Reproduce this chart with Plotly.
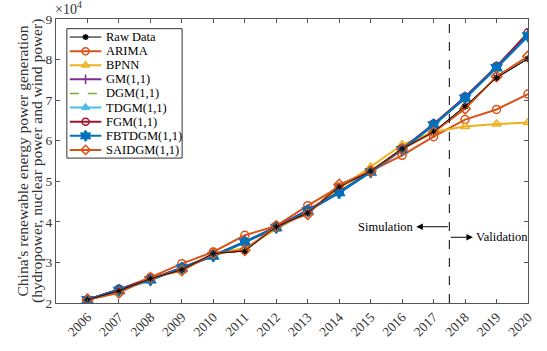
import plotly.graph_objects as go

years = list(range(2006, 2021))
raw = [2.08, 2.30, 2.60, 2.82, 3.22, 3.28, 3.88, 4.22, 4.86, 5.25, 5.80, 6.22, 6.85, 7.55, 8.02]
arima = [2.08, 2.33, 2.63, 2.97, 3.26, 3.67, 3.90, 4.40, 4.86, 5.25, 5.64, 6.10, 6.52, 6.77, 7.15]
bpnn = [2.08, 2.28, 2.62, 2.80, 3.22, 3.35, 3.82, 4.25, 4.82, 5.35, 5.90, 6.22, 6.35, 6.41, 6.45]
gm = [2.08, 2.33, 2.58, 2.86, 3.16, 3.50, 3.87, 4.28, 4.73, 5.23, 5.79, 6.40, 7.07, 7.81, 8.63]
dgm = [2.08, 2.33, 2.58, 2.86, 3.16, 3.50, 3.87, 4.28, 4.73, 5.23, 5.79, 6.40, 7.07, 7.82, 8.64]
tdgm = [2.08, 2.32, 2.58, 2.86, 3.16, 3.50, 3.87, 4.28, 4.73, 5.24, 5.79, 6.39, 7.06, 7.80, 8.60]
fgm = [2.08, 2.34, 2.59, 2.87, 3.17, 3.51, 3.88, 4.29, 4.74, 5.24, 5.80, 6.41, 7.08, 7.83, 8.66]
fbtdgm = [2.08, 2.31, 2.57, 2.86, 3.16, 3.50, 3.86, 4.27, 4.72, 5.23, 5.78, 6.39, 7.05, 7.80, 8.58]
saidgm = [2.08, 2.25, 2.62, 2.80, 3.22, 3.30, 3.90, 4.19, 4.92, 5.25, 5.79, 6.21, 6.79, 7.58, 8.08]
y_ticks = [2, 3, 4, 5, 6, 7, 8, 9]

# name, values, color, marker symbol, line width, dash, marker size
series = [
    ("Raw Data", raw, "black", "asterisk-open", 1, "solid", 6),
    ("ARIMA", arima, "#D95319", "circle-open", 2, "solid", 8),
    ("BPNN", bpnn, "#EDB120", "triangle-up-open", 2, "solid", 8),
    ("GM(1,1)", gm, "#7E2F8E", "line-ns-open", 2, "solid", 8),
    ("DGM(1,1)", dgm, "#77AC30", None, 1.5, "dash", 6),
    ("TDGM(1,1)", tdgm, "#4DBEEE", "triangle-up", 2, "solid", 8),
    ("FGM(1,1)", fgm, "#A2142F", "circle-open", 2, "solid", 8),
    ("FBTDGM(1,1)", fbtdgm, "#0072BD", "hexagram", 2.5, "solid", 9),
    ("SAIDGM(1,1)", saidgm, "#D95319", "diamond-open", 2, "solid", 8),
]

font_family = "Liberation Serif"
fig = go.Figure()
for name, vals, color, sym, w, dash, ms in series:
    mode = "lines+markers" if sym else "lines"
    marker = dict(symbol=sym, size=ms, color=color, line=dict(color=color, width=1.5)) if sym else None
    fig.add_trace(go.Scatter(x=years, y=vals, name=name, mode=mode, showlegend=False,
                             line=dict(color=color, width=w, dash=dash), marker=marker))
# raw data drawn again on top
fig.add_trace(go.Scatter(x=years, y=raw, mode="lines+markers", showlegend=False,
                         line=dict(color="black", width=0.8),
                         marker=dict(symbol="asterisk-open", size=5, color="black",
                                     line=dict(color="black", width=1))))

# ---- manual compact legend (overlay axis in plot-area fractions) ----
W, H = 479.0, 294.0            # plot area size in px
box_l, box_r, box_t, box_b = 11, 128, 10, 144   # px relative to plot area top-left
row0, row_gap = 18.7, 14.6
ls_x0, ls_x1, mk_x, tx_x = 14, 46, 30, 49
fx = lambda px: px / W
fy = lambda py: 1 - py / H
fig.add_shape(type="rect", xref="x domain", yref="y domain",
              x0=fx(box_l), x1=fx(box_r), y0=fy(box_b), y1=fy(box_t),
              line=dict(color="#333", width=1), fillcolor="white", layer="below")
for i, (name, vals, color, sym, w, dash, ms) in enumerate(series):
    yc = fy(row0 + i * row_gap)
    fig.add_trace(go.Scatter(x=[fx(ls_x0), fx(ls_x1)], y=[yc, yc], mode="lines", xaxis="x2", yaxis="y2",
                             showlegend=False, hoverinfo="skip",
                             line=dict(color=color, width=min(w, 2), dash=dash)))
    if sym:
        fig.add_trace(go.Scatter(x=[fx(mk_x)], y=[yc], mode="markers", xaxis="x2", yaxis="y2",
                                 showlegend=False, hoverinfo="skip",
                                 marker=dict(symbol=sym, size=ms - 1, color=color,
                                             line=dict(color=color, width=1.5))))
    fig.add_annotation(x=fx(tx_x), y=yc, xref="x2", yref="y2", text=name, showarrow=False,
                       xanchor="left", yanchor="middle", font=dict(family=font_family, size=12.5, color="black"))

# ---- divider and arrows ----
fig.add_shape(type="line", x0=2017.5, x1=2017.5, y0=0, y1=1, xref="x", yref="paper",
              line=dict(color="black", width=1, dash="dash"))
fig.add_annotation(x=2016.45, y=3.88, ax=2017.5, ay=3.88, xref="x", yref="y", axref="x", ayref="y",
                   text="", showarrow=True, arrowhead=2, arrowsize=1.3, arrowwidth=1, arrowcolor="black")
fig.add_annotation(x=2016.45, y=3.88, xref="x", yref="y", text="Simulation", showarrow=False,
                   xanchor="right", font=dict(family=font_family, size=12.5, color="black"))
fig.add_annotation(x=2018.25, y=3.62, ax=2017.5, ay=3.62, xref="x", yref="y", axref="x", ayref="y",
                   text="", showarrow=True, arrowhead=2, arrowsize=1.3, arrowwidth=1, arrowcolor="black")
fig.add_annotation(x=2018.28, y=3.62, xref="x", yref="y", text="Validation", showarrow=False,
                   xanchor="left", font=dict(family=font_family, size=12.5, color="black"))
fig.add_annotation(x=0, y=1, xref="paper", yref="paper", text="×10<sup>4</sup>", showarrow=False,
                   xanchor="left", yanchor="bottom", xshift=-3, font=dict(family=font_family, size=14, color="#333"))

# ---- y title as two rotated lines ----
fig.add_annotation(x=0, y=0.5, xref="paper", yref="paper", xshift=-45, textangle=-90, showarrow=False,
                   text="China's renewable energy power generation",
                   font=dict(family=font_family, size=15.5, color="#333"))
fig.add_annotation(x=0, y=0.5, xref="paper", yref="paper", xshift=-30, textangle=-90, showarrow=False,
                   text="(hydropower, nuclear power and wind power)",
                   font=dict(family=font_family, size=15.5, color="#333"))

axis_common = dict(showline=True, linecolor="#555", linewidth=1, mirror="ticks", ticks="inside",
                   ticklen=4, tickcolor="#555", showgrid=False, zeroline=False,
                   tickfont=dict(family=font_family, size=13.5, color="#333"))
fig.update_xaxes(range=[2005, 2020], tickmode="array", tickvals=years, ticktext=[str(y) for y in years],
                 tickangle=-45, **axis_common)
fig.update_yaxes(range=[2, 9], tickmode="array", tickvals=y_ticks, **axis_common)
fig.update_layout(
    width=547, height=351, margin=dict(l=56, r=12, t=18, b=39),
    paper_bgcolor="white", plot_bgcolor="white",
    font=dict(family=font_family, color="black"),
    showlegend=False,
    xaxis2=dict(overlaying="x", range=[0, 1], visible=False, fixedrange=True),
    yaxis2=dict(overlaying="y", range=[0, 1], visible=False, fixedrange=True),
)
fig.write_html("out.html")
